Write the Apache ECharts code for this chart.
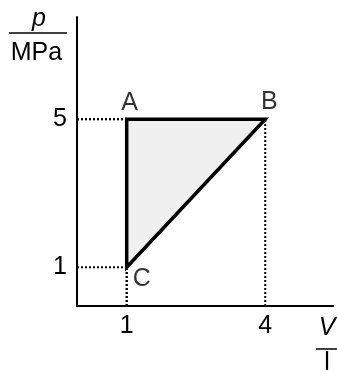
<!DOCTYPE html>
<html>
<head>
<meta charset="utf-8">
<script src="https://cdn.jsdelivr.net/npm/echarts@6/dist/echarts.min.js"></script>
<style>
    html, body { margin: 0; padding: 0; background: #fff; }
    #chart { width: 337px; height: 372px; }
</style>
</head>
<body>
<div id="chart"></div>
<script>
    // cycle points (V in l, p in MPa)
    const pointNames = ['A', 'B', 'C'];
    const volumes = [1, 4, 1];
    const pressures = [5, 5, 1];
    const xTicks = [1, 4];
    const yTicks = [1, 5];

    const xMin = -0.076, xMax = 5.467;
    const yMin = -0.046, yMax = 7.76;
    const font = 'Arial, Liberation Sans, sans-serif';

    const pts = volumes.map((v, i) => [v, pressures[i]]);
    // label offsets from each point, px
    const labelOffsets = [[3, -16], [4, -17], [15, 12]];

    const chart = echarts.init(document.getElementById('chart'));

    // dotted guide lines from each point back to the axes
    const guides = [];
    pts.forEach(p => {
        guides.push([[xMin, p[1]], [p[0], p[1]]]);
        guides.push([[p[0], yMin], [p[0], p[1]]]);
    });

    const guideSeries = guides.map(g => ({
        type: 'line',
        data: g,
        symbol: 'none',
        silent: true,
        z: 1,
        lineStyle: { color: '#000', width: 2, type: [2, 2] }
    }));

    const option = {
        animation: false,
        grid: { left: 77, right: 4, top: 17, bottom: 66 },
        xAxis: {
            type: 'value',
            min: xMin,
            max: xMax,
            axisLine: { onZero: false, lineStyle: { color: '#000', width: 2 } },
            axisTick: { show: false },
            splitLine: { show: false },
            axisLabel: {
                customValues: xTicks,
                color: '#000',
                fontSize: 25,
                fontFamily: font,
                margin: 8
            }
        },
        yAxis: {
            type: 'value',
            min: yMin,
            max: yMax,
            axisLine: { onZero: false, lineStyle: { color: '#000', width: 2 } },
            axisTick: { show: false },
            splitLine: { show: false },
            axisLabel: {
                customValues: yTicks,
                color: '#000',
                fontSize: 25,
                fontFamily: font,
                margin: 10
            }
        },
        series: guideSeries.concat([
            {
                type: 'custom',
                data: pts,
                z: 3,
                renderItem: function (params, api) {
                    if (params.dataIndex !== 0) return;
                    const poly = pts.map(p => api.coord(p));
                    return {
                        type: 'polygon',
                        shape: { points: poly },
                        style: { fill: '#f0f0f0', stroke: '#000', lineWidth: 3.5, lineJoin: 'miter' }
                    };
                }
            },
            {
                type: 'scatter',
                symbolSize: 0,
                z: 4,
                data: pts.map((p, i) => ({
                    value: p,
                    name: pointNames[i],
                    label: {
                        show: true,
                        formatter: pointNames[i],
                        color: '#000',
                        fontSize: 25,
                        fontFamily: font,
                        position: 'inside',
                        align: 'center',
                        verticalAlign: 'middle',
                        offset: labelOffsets[i]
                    }
                }))
            }
        ]),
        graphic: [
            { type: 'text', x: 39, y: 19, style: { text: 'p', fontSize: 25, fontStyle: 'italic', fontFamily: font, fill: '#000', align: 'center', verticalAlign: 'middle' } },
            { type: 'line', shape: { x1: 9, y1: 33, x2: 67, y2: 33 }, style: { stroke: '#000', lineWidth: 1.5 } },
            { type: 'text', x: 36.5, y: 53, style: { text: 'MPa', fontSize: 25, fontFamily: font, fill: '#000', align: 'center', verticalAlign: 'middle' } },
            { type: 'text', x: 327, y: 328, style: { text: 'V', fontSize: 25, fontStyle: 'italic', fontFamily: font, fill: '#000', align: 'center', verticalAlign: 'middle' } },
            { type: 'line', shape: { x1: 316, y1: 349, x2: 337, y2: 349 }, style: { stroke: '#000', lineWidth: 1.5 } },
            { type: 'text', x: 327, y: 363, style: { text: 'l', fontSize: 25, fontFamily: font, fill: '#000', align: 'center', verticalAlign: 'middle' } }
        ]
    };

    chart.setOption(option);
</script>
</body>
</html>
